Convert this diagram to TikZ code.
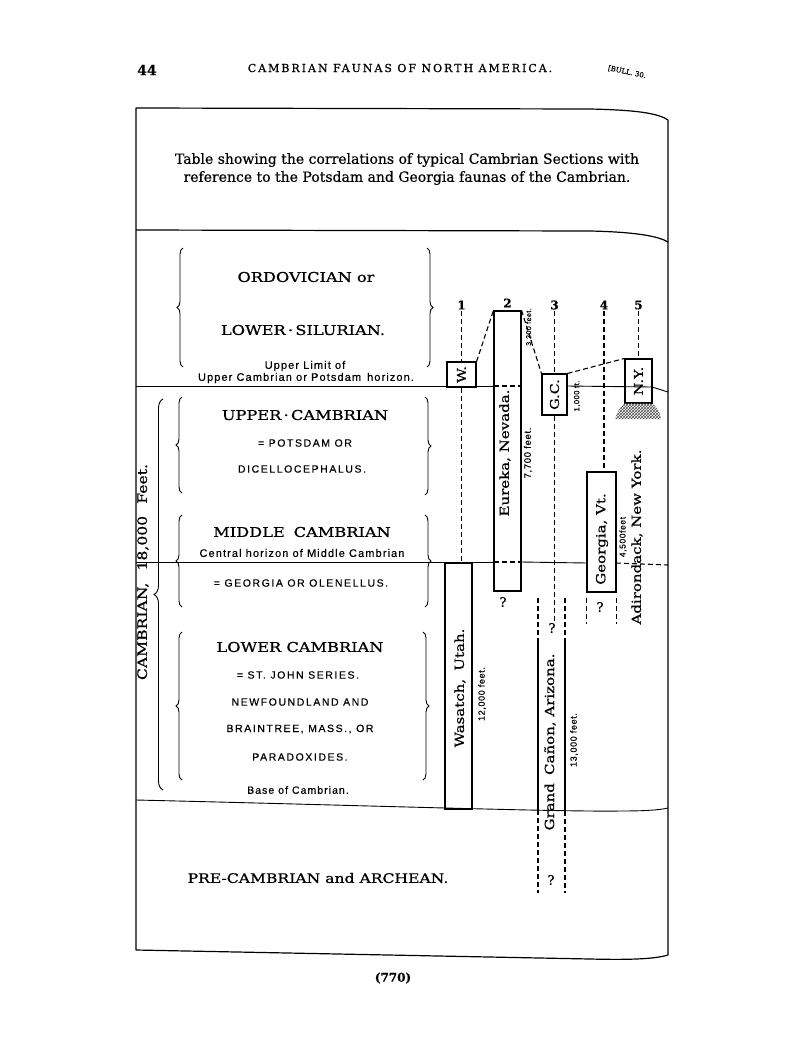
\documentclass[tikz,border=0pt]{standalone}
\usepackage{fontspec}
\setsansfont{Liberation Sans}[FakeBold=0.4]
\newfontfamily\clar{DejaVu Serif}[FakeStretch=1.2, FakeBold=0.8]
\newfontfamily\plain{DejaVu Serif}[FakeBold=0.6]
\usetikzlibrary{decorations.pathreplacing,patterns,calc}

\begin{document}
\begin{tikzpicture}[x=1pt, y=1pt,
    frame/.style={line width=1.2pt, line join=round},
    rule/.style={line width=0.9pt},
    guide/.style={line width=1.1pt, dash pattern=on 5pt off 3pt},
    box/.style={draw, line width=1.1pt, inner sep=0pt},
    era/.style={font=\clar\fontsize{13.5}{16}\selectfont, inner sep=1pt},
    caps/.style={font=\sffamily\fontsize{10.5}{12}\selectfont\addfontfeature{LetterSpace=15}, inner sep=1pt},
    note/.style={font=\sffamily\fontsize{#1}{12}\selectfont\addfontfeature{LetterSpace=10}, inner sep=1pt},
    note/.default=11,
    place/.style={font=\clar\fontsize{12.5}{14}\selectfont, rotate=90, inner sep=0pt},
    feet/.style={font=\sffamily\fontsize{#1}{9}\selectfont\addfontfeature{LetterSpace=7}, rotate=90, inner sep=0pt},
    feet/.default=9,
    num/.style={font=\plain\bfseries\fontsize{12}{14}\selectfont, inner sep=1pt},
    query/.style={font=\plain\fontsize{13}{14}\selectfont, inner sep=0pt},
    curly/.style={decorate, decoration={brace, amplitude=6pt}, line width=0.9pt}
  ]
  \useasboundingbox (0,0) rectangle (800,-1050);

  %% page head
  \node[font=\plain\bfseries\fontsize{14}{16}\selectfont] (pageno) at (147,-70) {44};
  \node[font=\plain\fontsize{11}{13}\selectfont\addfontfeature{LetterSpace=18}] (head) at (400,-68)
      {CAMBRIAN FAUNAS OF NORTH AMERICA.};
  \node[font=\plain\fontsize{7}{8}\selectfont, rotate=-12] (bull) at (627,-72) {[BULL. 30.};
  \node[font=\plain\bfseries\fontsize{12}{14}\selectfont] (folio) at (393,-978) {(770)};

  %% frame and horizons
  \draw[frame] (136,-108) -- (590,-109) .. controls (635,-110) and (658,-113) .. (668,-120)
      -- (668,-955) .. controls (655,-959) and (630,-960) .. (590,-959) -- (136,-950) -- cycle;
  \draw[frame] (136,-230) -- (590,-231) .. controls (635,-232) and (658,-236) .. (668,-242);
  \draw[rule] (136,-386) -- (494,-386);
  \draw[guide] (494,-386) -- (521,-386);
  \draw[rule] (567,-386) -- (652,-387) -- (668,-392);
  \draw[rule] (136,-562) -- (494,-562);
  \draw[guide] (494,-562) -- (521,-562);
  \draw[rule] (521,-562) -- (587,-563);
  \draw[guide] (616,-563) -- (668,-565);
  \draw[rule] (136,-800) .. controls (350,-805) and (560,-812) .. (620,-811)
      .. controls (645,-811) and (660,-810) .. (668,-808);

  %% title
  \node[font=\plain\fontsize{14}{18}\selectfont, align=center] (title) at (407,-169)
      {Table showing the correlations of typical Cambrian Sections with\\
       reference to the Potsdam and Georgia faunas of the Cambrian.};

  %% systems on the left
  \draw[curly] (183,-367) -- (183,-248);
  \draw[curly] (427,-248) -- (427,-367);
  \node[era] (ordo) at (306,-277) {ORDOVICIAN or};
  \node[era] (silur) at (303,-330) {LOWER\,·\,SILURIAN.};
  \node[note] (lim1) at (305,-366) {Upper Limit of};
  \node[note] (lim2) at (306,-378) {Upper Cambrian or Potsdam\, horizon.};

  \draw[curly] (182,-493) -- (182,-397);
  \draw[curly] (425,-397) -- (425,-495);
  \node[era] (upper) at (305,-415) {UPPER\,·\,CAMBRIAN};
  \node[caps] (pots) at (305,-443) {= POTSDAM OR};
  \node[caps] (dice) at (302,-469) {DICELLOCEPHALUS.};

  \draw[curly] (182,-607) -- (182,-515);
  \draw[curly] (425,-515) -- (425,-607);
  \node[era] (middle) at (302,-532) {MIDDLE\; CAMBRIAN};
  \node[note] (central) at (302,-553) {Central horizon of Middle Cambrian};
  \node[caps] (olen) at (301,-583) {= GEORGIA OR OLENELLUS.};

  \draw[curly] (182,-780) -- (182,-632);
  \draw[curly] (423,-632) -- (423,-780);
  \node[era] (lower) at (300,-647) {LOWER CAMBRIAN};
  \node[caps] (john) at (298,-675) {= ST. JOHN SERIES.};
  \node[caps] (newf) at (300,-702) {NEWFOUNDLAND AND};
  \node[caps] (brain) at (300,-729) {BRAINTREE, MASS., OR};
  \node[caps] (para) at (300,-757) {PARADOXIDES.};
  \node[note=10.5] (base) at (298,-790) {Base of Cambrian.};

  \draw[curly, decoration={brace, amplitude=9pt, aspect=0.5}] (163,-790) -- (163,-399);
  \node[place, font=\clar\fontsize{13}{14}\selectfont] (cambrian) at (143,-572)
      {CAMBRIAN,\;\; 18,000\;\; Feet.};

  \node[font=\clar\fontsize{13}{16}\selectfont] (pre) at (318,-878) {PRE-CAMBRIAN and ARCHEAN.};

  %% sections
  \node[num] (n1) at (461.5,-305) {1};
  \node[num] (n2) at (507.5,-303) {2};
  \node[num] (n3) at (554.5,-305) {3};
  \node[num] (n4) at (604,-305) {4};
  \node[num] (n5) at (638.5,-305) {5};

  \node[box, minimum width=29pt, minimum height=25pt] (w) at (461.5,-374.5) {};
  \node[box, minimum width=27pt, minimum height=280pt] (eureka) at (507.5,-451) {};
  \node[box, minimum width=25pt, minimum height=41pt] (gc) at (554.5,-394.5) {};
  \node[box, minimum width=29pt, minimum height=120pt] (georgia) at (601.5,-532) {};
  \node[box, minimum width=27pt, minimum height=44pt] (ny) at (638.5,-381) {};
  \node[box, minimum width=27pt, minimum height=246pt] (wasatch) at (458.5,-686) {};

  \node[place, font=\clar\fontsize{12}{14}\selectfont] (wl) at (w) {W.};
  \node[place, font=\clar\fontsize{12}{14}\selectfont] (gcl) at (gc) {G.C.};
  \node[place, font=\clar\fontsize{12}{14}\selectfont] (nyl) at (ny) {N.Y.};
  \node[place] (eurekal) at (505,-453) {Eureka, Nevada.};
  \node[place] (georgial) at (602,-539) {Georgia, Vt.};
  \node[place] (wasatchl) at (460,-688) {Wasatch,\; Utah.};
  \node[place] (grandl) at (550,-742) {Grand\; Cañon, Arizona.};
  \node[place] (adirl) at (637,-537) {Adirondack, New York.};

  \node[feet=7] (f3200) at (529,-327) {3,200 feet.};
  \node[feet=9.5] (f7700) at (528,-453) {7,700 feet.};
  \node[feet=7.5] (f1000) at (577,-396) {1,000 ft.};
  \node[feet=8.5] (f4500) at (623,-537) {4,500feet};
  \node[feet] (f12000) at (482,-694) {12,000 feet.};
  \node[feet] (f13000) at (574,-740) {13,000 feet.};

  \node[query] (qe) at (503,-602) {?};
  \node[query] (qc) at (552,-628) {?};
  \node[query] (qg) at (600,-607) {?};
  \node[query] (qb) at (551,-880) {?};

  %% dashed ties
  \draw[guide] (n1.south) -- (w.north);
  \draw[guide] (w.south) -- (w.south |- wasatch.north);
  \draw[guide] (w.north east) -- (eureka.north west);
  \draw[guide] (eureka.north east) -- (gc.north west);
  \draw[guide] (n3.south) -- (gc.north);
  \draw[guide] (gc.south) -- (gc.south |- qc.north);
  \draw[guide] (gc.north east) -- (ny.north west);
  \draw[guide] (n4.south) -- (n4.south |- georgia.north);
  \draw[guide] (n5.south) -- (ny.north);

  %% Grand Canon walls
  \coordinate (gtl) at (538,-598);
  \coordinate (gtr) at (565,-598);
  \draw[guide] (gtl) -- ++(0,-42);
  \draw[guide] (gtr) -- ++(0,-42);
  \draw[rule, line width=1.1pt] ($(gtl)+(0,-42)$) -- (538,-810);
  \draw[rule, line width=1.1pt] ($(gtr)+(0,-42)$) -- (565,-811);
  \draw[guide] (538,-810) -- (538,-893);
  \draw[guide] (565,-811) -- (565,-893);

  %% below Georgia
  \draw[guide] (georgia.south west) ++(0,-5) -- ++(0,-26);
  \draw[guide] (georgia.south east) ++(0,-5) -- ++(0,-26);

  %% ground under N.Y.
  \path[pattern=crosshatch, pattern color=black!70] (615,-419) .. controls (618,-410) and (622,-404) .. (626,-403)
      -- (651,-403) .. controls (656,-405) and (660,-412) .. (661,-419) -- cycle;
\end{tikzpicture}
\end{document}
